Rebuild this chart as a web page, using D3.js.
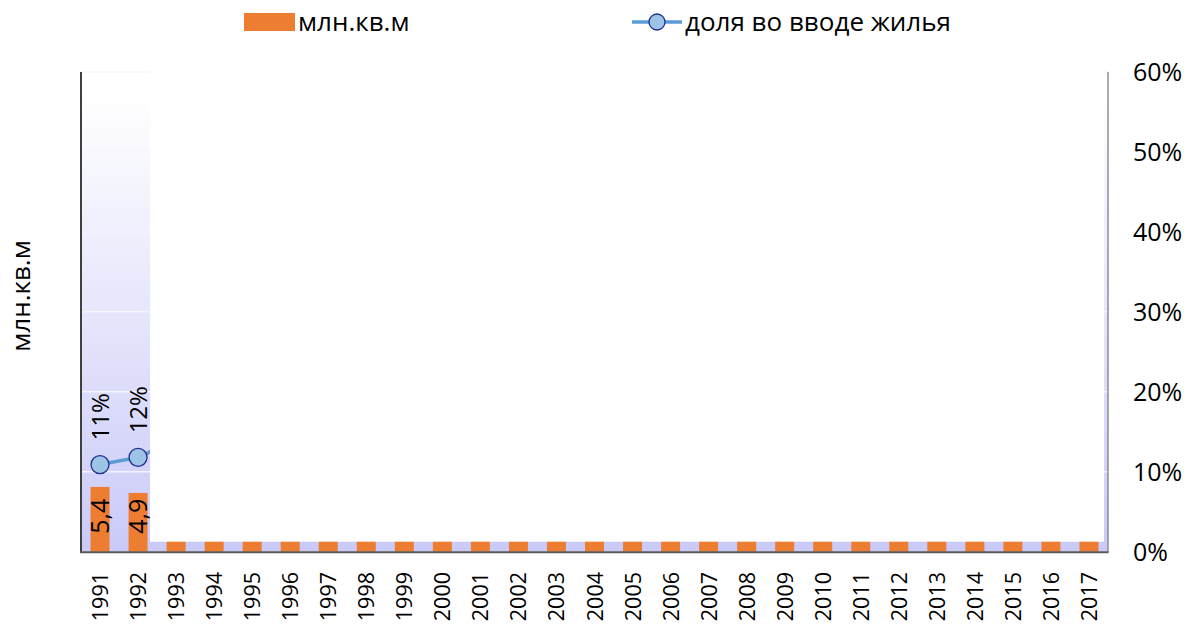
<!DOCTYPE html>
<html><head><meta charset="utf-8">
<script src="https://cdn.jsdelivr.net/npm/d3@7"></script>
<style>body{margin:0;background:#fff;} svg{display:block;font-family:"Open Sans",sans-serif;}</style>
</head><body>
<svg id="c" width="1189" height="629"></svg>
<script>
const years = ["1991","1992","1993","1994","1995","1996","1997","1998","1999","2000","2001","2002","2003","2004","2005","2006","2007","2008","2009","2010","2011","2012","2013","2014","2015","2016","2017"];
const area = [5.4,4.9,6.0,7.1,8.6,9.5,10.0,10.5,11.6,12.1,13.0,14.6,15.0,16.8,17.5,20.0,24.8,28.5,28.5,25.5,26.5,28.6,30.7,35.2,35.2,31.8,31.6];
const share = [0.109,0.118,0.14,0.18,0.21,0.28,0.31,0.34,0.36,0.40,0.41,0.43,0.41,0.41,0.40,0.40,0.40,0.44,0.48,0.44,0.43,0.43,0.44,0.42,0.41,0.40,0.40];
const pctTicks = [0,0.1,0.2,0.3,0.4,0.5,0.6];
const seriesNames = ["млн.кв.м","доля во вводе жилья"];
const leftTitle = "млн.кв.м";
// visible (revealed) part of the chart
const revealedCount = 2;

const svg = d3.select("#c");
const L = 81, R = 1108, T = 72, B = 551.7;
const x = d3.scaleBand().domain(years).range([L,R]).paddingInner(0.5).paddingOuter(0.25);
const yL = d3.scaleLinear().domain([0,40]).range([B,T]);
const yR = d3.scaleLinear().domain([0,0.6]).range([B,T]);

const defs = svg.append("defs");
const g = defs.append("linearGradient").attr("id","bg").attr("x1",0).attr("y1",0).attr("x2",0).attr("y2",1);
g.append("stop").attr("offset","0%").attr("stop-color","#ffffff");
g.append("stop").attr("offset","5%").attr("stop-color","#ffffff");
g.append("stop").attr("offset","100%").attr("stop-color","#cacaf9");

svg.append("rect").attr("x",L).attr("y",T).attr("width",R-L).attr("height",B-T).attr("fill","url(#bg)");

// gridlines
svg.append("g").selectAll("line").data(pctTicks.slice(1)).join("line")
  .attr("x1",L).attr("x2",R).attr("y1",d=>yR(d)).attr("y2",d=>yR(d))
  .attr("stroke","#f4f4ff").attr("stroke-width",1.5);

// bars
svg.append("g").selectAll("rect").data(years).join("rect")
  .attr("x",d=>x(d)).attr("width",x.bandwidth())
  .attr("y",(d,i)=>yL(area[i])).attr("height",(d,i)=>B-yL(area[i]))
  .attr("fill","#ed7d31");

// bar labels
svg.append("g").selectAll("text").data(years).join("text")
  .attr("transform",(d,i)=>`translate(${x(d)+x.bandwidth()/2+9},${B-18}) rotate(-90)`)
  .attr("font-size",25).attr("fill","#000")
  .text((d,i)=>String(area[i]).replace(".",","));

// line
const line = d3.line().x((d,i)=>x(years[i])+x.bandwidth()/2).y(d=>yR(d));
svg.append("path").datum(share).attr("d",line).attr("fill","none").attr("stroke","#5b9bd5").attr("stroke-width",3.5);
svg.append("g").selectAll("circle").data(share).join("circle")
  .attr("cx",(d,i)=>x(years[i])+x.bandwidth()/2).attr("cy",d=>yR(d)).attr("r",9)
  .attr("fill","#9dc3e6").attr("stroke","#1f2f8f").attr("stroke-width",1.3);
svg.append("g").selectAll("text").data(share).join("text")
  .attr("transform",(d,i)=>`translate(${x(years[i])+x.bandwidth()/2+9},${yR(d)-24}) rotate(-90)`)
  .attr("font-size",24).attr("fill","#000")
  .text(d=>Math.round(d*100)+"%");

// reveal mask covering not-yet-shown part
const maskX = x(years[revealedCount-1]) + x.bandwidth() + 2.5;
svg.append("rect").attr("x",maskX).attr("y",T-10).attr("width",R-4-maskX).attr("height",541.7-(T-10)).attr("fill","#fff");

// axes lines
svg.append("line").attr("x1",L).attr("x2",L).attr("y1",T).attr("y2",B+0.5).attr("stroke","#404040").attr("stroke-width",2);
svg.append("line").attr("x1",R).attr("x2",R).attr("y1",T).attr("y2",B+0.5).attr("stroke","#7f7f7f").attr("stroke-width",1.3);
svg.append("line").attr("x1",L-1).attr("x2",R+0.5).attr("y1",B+0.5).attr("y2",B+0.5).attr("stroke","#595959").attr("stroke-width",2);

// x labels
svg.append("g").selectAll("text").data(years).join("text")
  .attr("transform",d=>`translate(${x(d)+x.bandwidth()/2+8},${572}) rotate(-90)`)
  .attr("text-anchor","end").attr("font-size",21.5).attr("fill","#000").text(d=>d);

// right axis labels
svg.append("g").selectAll("text").data(pctTicks).join("text")
  .attr("x",1133).attr("y",d=>yR(d)+9).attr("font-size",25).attr("fill","#000")
  .text(d=>Math.round(d*100)+"%");

// left title
svg.append("text").attr("transform","translate(30,296) rotate(-90)").attr("text-anchor","middle")
  .attr("font-size",26).attr("fill","#000").text(leftTitle);

// legend
svg.append("rect").attr("x",244).attr("y",13).attr("width",51).attr("height",18).attr("fill","#ed7d31");
svg.append("text").attr("x",298).attr("y",31).attr("font-size",26).attr("fill","#000").text(seriesNames[0]);
svg.append("line").attr("x1",632).attr("x2",682).attr("y1",22).attr("y2",22).attr("stroke","#5b9bd5").attr("stroke-width",3.5);
svg.append("circle").attr("cx",657).attr("cy",22).attr("r",8).attr("fill","#9dc3e6").attr("stroke","#1f2f8f").attr("stroke-width",1.3);
svg.append("text").attr("x",685).attr("y",31).attr("font-size",26).attr("fill","#000").text(seriesNames[1]);
</script>
</body></html>
